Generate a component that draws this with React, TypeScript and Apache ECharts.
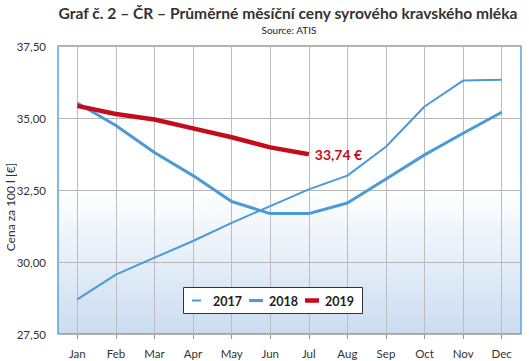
import React, { useEffect, useRef } from "react";
import * as echarts from "echarts";

const months = ["Jan", "Feb", "Mar", "Apr", "May", "Jun", "Jul", "Aug", "Sep", "Oct", "Nov", "Dec"];
const series2017 = [28.7, 29.56, 30.15, 30.73, 31.36, 31.94, 32.52, 33.0, 34.0, 35.4, 36.3, 36.33];
const series2018 = [35.52, 34.74, 33.8, 33.0, 32.1, 31.68, 31.68, 32.05, 32.88, 33.72, 34.47, 35.2];
const series2019 = [35.42, 35.14, 34.95, 34.64, 34.33, 33.98, 33.74];
const seriesNames = ["2017", "2018", "2019"];
const yTicks = { min: 27.5, max: 37.5, interval: 2.5 };
const titleText = "Graf č. 2 – ČR – Průměrné měsíční ceny syrového kravského mléka";
const subtitleText = "Source: ATIS";
const yAxisName = "Cena za 100 l [€]";

const BLUE = "#4a9ad8";
const RED = "#c30d1c";
const FONT = "Lato, 'Noto Sans', sans-serif";

export default function App() {
  const ref = useRef<HTMLDivElement>(null);
  useEffect(() => {
    if (!ref.current) return;
    const chart = echarts.init(ref.current, undefined, { renderer: "svg" });
    const fmt = (v: number) => v.toFixed(2).replace(".", ",");
    const legendItems = [
      { name: seriesNames[0], color: BLUE, w: 9, h: 2, iconX: 192, textX: 213 },
      { name: seriesNames[1], color: BLUE, w: 14, h: 3, iconX: 249, textX: 269 },
      { name: seriesNames[2], color: RED, w: 14, h: 4.5, iconX: 305, textX: 325 },
    ];
    const legendGraphics: any[] = [
      {
        type: "rect",
        shape: { x: 183.5, y: 287.5, width: 179, height: 26 },
        style: { fill: "#fff", stroke: "#333", lineWidth: 1 },
        z: 100,
      },
    ];
    legendItems.forEach((it) => {
      legendGraphics.push({
        type: "rect",
        shape: { x: it.iconX, y: 300.5 - it.h / 2, width: it.w, height: it.h },
        style: { fill: it.color },
        z: 101,
      });
      legendGraphics.push({
        type: "text",
        x: it.textX,
        y: 301,
        style: {
          text: it.name,
          fontSize: 12.5,
          fontWeight: "bold",
          fill: "#222",
          fontFamily: FONT,
          verticalAlign: "middle",
        },
        z: 101,
      });
    });
    chart.setOption({
      animation: false,
      textStyle: { fontFamily: FONT },
      graphic: [
        {
          type: "text",
          x: 288,
          y: 12.5,
          style: {
            text: titleText,
            fontSize: 15.6,
            fontWeight: "bold",
            fill: "#333",
            fontFamily: FONT,
            align: "center",
            verticalAlign: "middle",
          },
        },
        {
          type: "text",
          x: 289,
          y: 30,
          style: {
            text: subtitleText,
            fontSize: 10,
            fill: "#222",
            fontFamily: FONT,
            align: "center",
            verticalAlign: "middle",
          },
        },
        {
          type: "text",
          x: 10,
          y: 207,
          rotation: Math.PI / 2,
          style: {
            text: yAxisName,
            fontSize: 12,
            fill: "#333",
            fontFamily: FONT,
            align: "center",
            verticalAlign: "middle",
          },
        },
        ...legendGraphics,
      ],
      grid: {
        left: 58,
        right: 8,
        top: 46,
        bottom: 27,
        show: true,
        borderColor: "#5aa2de",
        borderWidth: 1.5,
        backgroundColor: {
          type: "linear",
          x: 0,
          y: 0,
          x2: 0,
          y2: 1,
          colorStops: [
            { offset: 0, color: "#ffffff" },
            { offset: 0.5, color: "#ffffff" },
            { offset: 1, color: "#cbdcf1" },
          ],
        },
      },
      xAxis: {
        type: "category",
        data: months,
        boundaryGap: true,
        axisLine: { show: false },
        axisTick: { show: true, alignWithLabel: true, length: 5, lineStyle: { color: "#999" } },
        splitLine: { show: true, alignWithLabel: true, lineStyle: { color: "#bdbdbd", width: 1 } },
        axisLabel: { fontSize: 11.5, color: "#333", margin: 13, fontFamily: FONT },
      },
      yAxis: {
        type: "value",
        min: yTicks.min,
        max: yTicks.max,
        interval: yTicks.interval,
        axisLine: { show: false },
        axisTick: { show: false },
        splitLine: { show: true, lineStyle: { color: "#b5b5b5", width: 1 } },
        axisLabel: {
          fontSize: 11.5,
          color: "#333",
          margin: 12,
          fontFamily: FONT,
          formatter: (v: number) => fmt(v),
        },
      },
      series: [
        {
          name: seriesNames[0],
          type: "line",
          data: series2017,
          symbol: "none",
          lineStyle: { color: BLUE, width: 2 },
          itemStyle: { color: BLUE },
          z: 2,
        },
        {
          name: seriesNames[1],
          type: "line",
          data: series2018,
          symbol: "none",
          lineStyle: { color: BLUE, width: 3 },
          itemStyle: { color: BLUE },
          z: 3,
        },
        {
          name: seriesNames[2],
          type: "line",
          data: series2019,
          symbol: "none",
          lineStyle: { color: RED, width: 4.5 },
          itemStyle: { color: RED },
          endLabel: {
            show: true,
            distance: 6,
            formatter: (p: any) => fmt(p.value) + " €",
            fontSize: 14,
            fontWeight: "bold",
            color: RED,
            fontFamily: FONT,
          },
          z: 4,
        },
      ],
    });
    return () => chart.dispose();
  }, []);
  return (
    <div
      ref={ref}
      style={{ position: "fixed", left: 0, top: 0, width: 529, height: 361, background: "#fff" }}
    />
  );
}
